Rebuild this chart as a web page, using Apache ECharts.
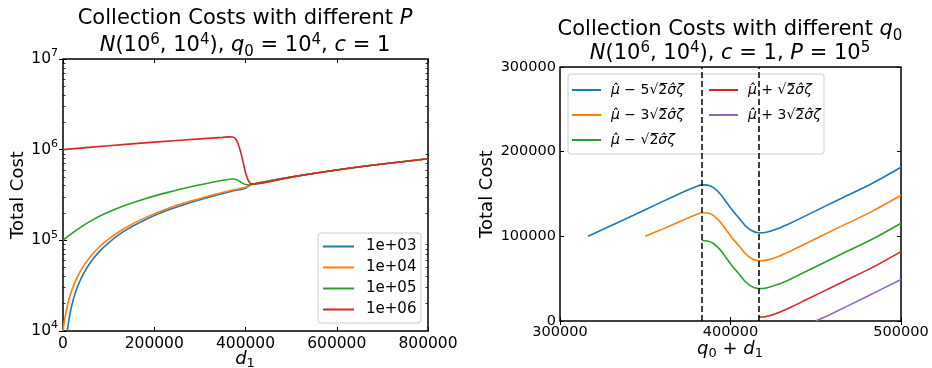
<!DOCTYPE html>
<html>
<head>
<meta charset="utf-8">
<script src="https://cdn.jsdelivr.net/npm/echarts@6/dist/echarts.min.js"></script>
<style>
html, body { margin: 0; padding: 0; background: #fff; }
#main { width: 932px; height: 368px; }
</style>
</head>
<body>
<div id="main"></div>
<script>
// left panel: total cost against d1 for several P (log scale)
var pNames = ['1e+03', '1e+04', '1e+05', '1e+06'];
var costP1e3 = [[9500, 10000], [11000, 11400], [13000, 13300], [16000, 16100], [20000, 19800], [26000, 25400],
  [34000, 32800], [45000, 43000], [60000, 57000], [80000, 75500], [100000, 94000], [135000, 127000],
  [180000, 169000], [230000, 216000], [280000, 262000], [330000, 309000], [370000, 347000], [400000, 376000],
  [414000, 412000], [500000, 498000], [600000, 596000], [700000, 695000], [800000, 794000]];
var costP1e4 = [[0, 10000], [3000, 12800], [6000, 15600], [11000, 20500], [17000, 26000], [25000, 33500],
  [35000, 42800], [48000, 55000], [63000, 69000], [80000, 85000], [100000, 103000], [135000, 136000],
  [180000, 178000], [230000, 225000], [280000, 271000], [330000, 318000], [370000, 356000], [400000, 384000],
  [414000, 414000], [500000, 498000], [600000, 596000], [700000, 695000], [800000, 794000]];
var costP1e5 = [[0, 100000], [20000, 120000], [40000, 141000], [62000, 165000], [90000, 195000], [135000, 242000],
  [180000, 288000], [230000, 338000], [280000, 390000], [330000, 440000], [355000, 463000], [370000, 474000],
  [378000, 472000], [385000, 455000], [392000, 430000], [400000, 412000], [407000, 408000], [414000, 415000],
  [500000, 498000], [600000, 596000], [700000, 695000], [800000, 794000]];
var costP1e6 = [[0, 1000000], [100000, 1105000], [200000, 1210000], [300000, 1315000], [350000, 1368000],
  [365000, 1385000], [372000, 1380000], [378000, 1320000], [384000, 1150000], [390000, 920000], [395000, 720000],
  [400000, 560000], [405000, 470000], [410000, 428000], [414000, 418000], [500000, 498000], [600000, 596000],
  [700000, 695000], [800000, 794000]];

// right panel: total cost against q0 + d1 for several q0
var qNames = [
  'μ\u0302 \u2212 5\u221A2\u0305\u03C3\u0302\u03B6',
  'μ\u0302 \u2212 3\u221A2\u0305\u03C3\u0302\u03B6',
  'μ\u0302 \u2212 \u221A2\u0305\u03C3\u0302\u03B6',
  'μ\u0302 + \u221A2\u0305\u03C3\u0302\u03B6',
  'μ\u0302 + 3\u221A2\u0305\u03C3\u0302\u03B6'
];
var costQ1 = [[316500, 100000], [340000, 122000], [360000, 141000], [370000, 150300], [376000, 155600],
  [380000, 158800], [383200, 160800], [386500, 160500], [390000, 157500], [394000, 150000], [397500, 140500],
  [401000, 131000], [405000, 121500], [408500, 113000], [412000, 107200], [416400, 104200], [421000, 104900],
  [428000, 109300], [436000, 116300], [444000, 124200], [463000, 143000], [483000, 162500], [500000, 181600]];
var costQ2 = [[350000, 100000], [360000, 108500], [370000, 117300], [376000, 122600], [380000, 125800],
  [383200, 127800], [386500, 127500], [390000, 124500], [394000, 117000], [397500, 107500], [401000, 98000],
  [405000, 88500], [408500, 80000], [412000, 74200], [416400, 71200], [421000, 71900], [428000, 76300],
  [436000, 83300], [444000, 91200], [463000, 110000], [483000, 129500], [500000, 148500]];
var costQ3 = [[383200, 95000], [386500, 94500], [390000, 91500], [394000, 84000], [397500, 74500],
  [401000, 65000], [405000, 55500], [408500, 47000], [412000, 41200], [416400, 38200], [421000, 38900],
  [428000, 43300], [436000, 50300], [444000, 58200], [463000, 77000], [483000, 96500], [500000, 115500]];
var costQ4 = [[416400, 4500], [421000, 5400], [428000, 9800], [436000, 16800], [444000, 24700],
  [463000, 43500], [483000, 63000], [500000, 82000]];
var costQ5 = [[450000, 0], [460000, 9200], [480000, 29000], [500000, 49000]];
var dashX = [383200, 416800];

var colors = ['#1f77b4', '#ff7f0e', '#2ca02c', '#d62728', '#9467bd'];
var F = 'DejaVu Sans';

function rich(size, lh) {
  var s = Math.round(size * 0.7);
  return {
    i: { fontStyle: 'italic', fontSize: size, fontFamily: F, lineHeight: lh },
    sup: { fontSize: s, fontFamily: F, verticalAlign: 'top' },
    sub: { fontSize: s, fontFamily: F, verticalAlign: 'bottom' }
  };
}

// minor ticks of the log axis (in log10 units)
var minorTicks = [];
for (var k = 4; k < 7; k++) {
  for (var m = 2; m <= 9; m++) minorTicks.push(k + Math.log10(m));
}

var tick = { inside: true, length: 4, lineStyle: { color: '#000', width: 1 } };
var noLine = { show: false };
var noSplit = { show: false };

function plain(v) { return String(v); }
function mathName(n) {
  return n.replace('μ\u0302', '{i|μ\u0302}').replace('\u03C3\u0302\u03B6', '{i|\u03C3\u0302\u03B6}');
}

var myChart = echarts.init(document.getElementById('main'));

function line(name, data, c, xi, yi, extra) {
  var s = {
    name: name, type: 'line', data: data, xAxisIndex: xi, yAxisIndex: yi,
    symbol: 'none', showSymbol: false, smooth: 0.3,
    lineStyle: { color: c, width: 1.6 }, itemStyle: { color: c }
  };
  if (extra) for (var key in extra) s[key] = extra[key];
  return s;
}

function mathText(x, y, text, size, lh) {
  return { type: 'text', x: x, y: y, style: { text: text, fontSize: size, fontFamily: F, fill: '#000',
    align: 'center', verticalAlign: 'middle', lineHeight: lh, rich: rich(size, lh) } };
}

var option = {
  animation: false,
  backgroundColor: '#fff',
  textStyle: { fontFamily: F },
  grid: [
    { left: 63, top: 59, width: 365, height: 272, show: true, borderColor: '#000', borderWidth: 1.5, backgroundColor: 'transparent' },
    { left: 560, top: 67, width: 341, height: 254, show: true, borderColor: '#000', borderWidth: 1.5, backgroundColor: 'transparent' }
  ],
  xAxis: [
    { type: 'value', gridIndex: 0, position: 'bottom', min: 0, max: 800000, interval: 200000,
      axisLine: noLine, axisTick: tick, splitLine: noSplit,
      axisLabel: { formatter: plain, fontSize: 15.5, color: '#000', margin: 5, fontFamily: F } },
    { type: 'value', gridIndex: 0, position: 'top', min: 0, max: 800000, interval: 200000,
      axisLine: noLine, axisTick: tick, splitLine: noSplit, axisLabel: { show: false } },
    { type: 'value', gridIndex: 1, position: 'bottom', min: 300000, max: 500000, interval: 100000,
      axisLine: noLine, axisTick: tick, splitLine: noSplit,
      axisLabel: { formatter: plain, fontSize: 14.5, color: '#000', margin: 4, fontFamily: F } },
    { type: 'value', gridIndex: 1, position: 'top', min: 300000, max: 500000, interval: 100000,
      axisLine: noLine, axisTick: tick, splitLine: noSplit, axisLabel: { show: false } }
  ],
  yAxis: [
    { type: 'log', logBase: 10, gridIndex: 0, position: 'left', min: 10000, max: 10000000,
      axisLine: noLine, axisTick: tick, splitLine: noSplit,
      axisLabel: { fontSize: 15.5, color: '#000', margin: 5, fontFamily: F, lineHeight: 22,
        formatter: function (v) { return '10{sup|' + Math.round(Math.log10(v)) + '}'; },
        rich: { sup: { fontSize: 11, fontFamily: F, verticalAlign: 'top', color: '#000' } } },
      name: 'Total Cost', nameLocation: 'middle', nameGap: 36,
      nameTextStyle: { fontSize: 18, color: '#000', fontFamily: F } },
    { type: 'log', logBase: 10, gridIndex: 0, position: 'right', min: 10000, max: 10000000,
      axisLine: noLine, axisTick: tick, splitLine: noSplit, axisLabel: { show: false } },
    { type: 'value', gridIndex: 0, position: 'left', min: 4, max: 7,
      axisLine: noLine, splitLine: noSplit, axisLabel: { show: false },
      axisTick: { inside: true, length: 2.5, customValues: minorTicks, lineStyle: { color: '#000', width: 0.8 } } },
    { type: 'value', gridIndex: 0, position: 'right', min: 4, max: 7,
      axisLine: noLine, splitLine: noSplit, axisLabel: { show: false },
      axisTick: { inside: true, length: 2.5, customValues: minorTicks, lineStyle: { color: '#000', width: 0.8 } } },
    { type: 'value', gridIndex: 1, position: 'left', min: 0, max: 300000, interval: 100000,
      axisLine: noLine, axisTick: tick, splitLine: noSplit,
      axisLabel: { formatter: plain, fontSize: 14.5, color: '#000', margin: 4, fontFamily: F },
      name: 'Total Cost', nameLocation: 'middle', nameGap: 63,
      nameTextStyle: { fontSize: 18, color: '#000', fontFamily: F } },
    { type: 'value', gridIndex: 1, position: 'right', min: 0, max: 300000, interval: 100000,
      axisLine: noLine, axisTick: tick, splitLine: noSplit, axisLabel: { show: false } }
  ],
  legend: [
    { data: pNames, orient: 'vertical', left: 318, top: 234, icon: 'rect', itemWidth: 31, itemHeight: 2, itemGap: 6,
      textStyle: { fontSize: 15, lineHeight: 14, color: '#000', fontFamily: F, padding: [0, 0, 0, 7] } },
    { data: qNames.slice(0, 3), orient: 'vertical', left: 567, top: 78, icon: 'rect', itemWidth: 29, itemHeight: 2, itemGap: 11,
      formatter: mathName,
      textStyle: { fontSize: 14, lineHeight: 14, color: '#000', fontFamily: F, padding: [0, 0, 0, 5],
        rich: { i: { fontStyle: 'italic', fontSize: 14, fontFamily: F, lineHeight: 14 } } } },
    { data: qNames.slice(3), orient: 'vertical', left: 704, top: 78, icon: 'rect', itemWidth: 29, itemHeight: 2, itemGap: 11,
      formatter: mathName,
      textStyle: { fontSize: 14, lineHeight: 14, color: '#000', fontFamily: F, padding: [0, 0, 0, 5],
        rich: { i: { fontStyle: 'italic', fontSize: 14, fontFamily: F, lineHeight: 14 } } } }
  ],
  graphic: [
    { type: 'rect', z: 3, silent: true, shape: { x: 318, y: 233, width: 103, height: 90, r: 3 },
      style: { fill: 'rgba(255,255,255,0.8)', stroke: '#cccccc', lineWidth: 1 } },
    { type: 'rect', z: 3, silent: true, shape: { x: 568, y: 74, width: 256, height: 80, r: 3 },
      style: { fill: 'rgba(255,255,255,0.8)', stroke: '#cccccc', lineWidth: 1 } },
    mathText(245, 19, 'Collection Costs with different {i|P}', 21, 27),
    mathText(245, 46, '{i|N}(10{sup|6}, 10{sup|4}), {i|q}{sub|0} = 10{sup|4}, {i|c} = 1', 21, 27),
    mathText(730, 30, 'Collection Costs with different {i|q}{sub|0}', 21, 27),
    mathText(730, 54, '{i|N}(10{sup|6}, 10{sup|4}), {i|c} = 1, {i|P} = 10{sup|5}', 21, 27),
    mathText(245, 359, '{i|d}{sub|1}', 18, 22),
    mathText(730, 349, '{i|q}{sub|0} + {i|d}{sub|1}', 18, 22)
  ],
  series: [
    line(pNames[0], costP1e3, colors[0], 0, 0),
    line(pNames[1], costP1e4, colors[1], 0, 0),
    line(pNames[2], costP1e5, colors[2], 0, 0),
    line(pNames[3], costP1e6, colors[3], 0, 0),
    line(qNames[0], costQ1, colors[0], 2, 4, {
      markLine: { silent: true, symbol: ['none', 'none'], label: { show: false },
        lineStyle: { color: '#000', type: [6, 3], width: 1.5 },
        data: dashX.map(function (v) { return { xAxis: v }; }) }
    }),
    line(qNames[1], costQ2, colors[1], 2, 4),
    line(qNames[2], costQ3, colors[2], 2, 4),
    line(qNames[3], costQ4, colors[3], 2, 4),
    line(qNames[4], costQ5, colors[4], 2, 4)
  ]
};

myChart.setOption(option);
</script>
</body>
</html>
